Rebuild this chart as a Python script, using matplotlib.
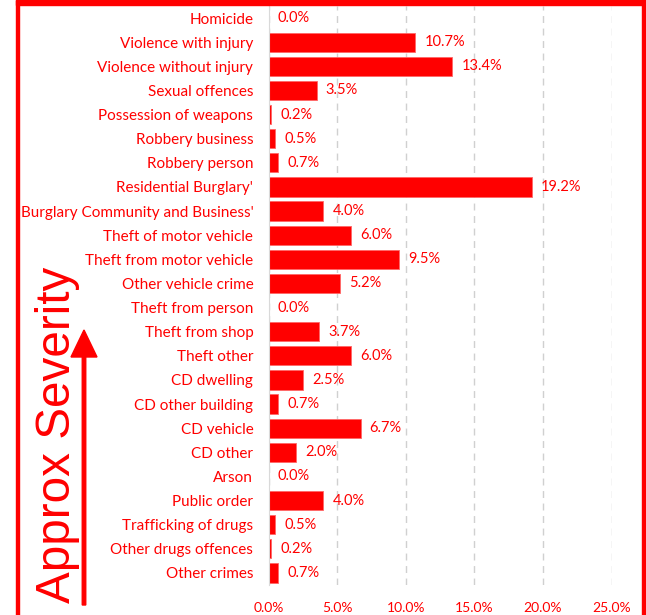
import matplotlib.pyplot as plt
from matplotlib.patches import Rectangle, FancyArrow
import numpy as np

# crime categories, top to bottom
categories = ['Homicide', 'Violence with injury', 'Violence without injury',
              'Sexual offences', 'Possession of weapons', 'Robbery business',
              'Robbery person', "Residential Burglary'",
              "Burglary Community and Business'", 'Theft of motor vehicle',
              'Theft from motor vehicle', 'Other vehicle crime',
              'Theft from person', 'Theft from shop', 'Theft other',
              'CD dwelling', 'CD other building', 'CD vehicle', 'CD other',
              'Arson', 'Public order', 'Trafficking of drugs',
              'Other drugs offences', 'Other crimes']
shares = [0.0, 10.7, 13.4, 3.5, 0.2, 0.5, 0.7, 19.2, 4.0, 6.0, 9.5, 5.2,
          0.0, 3.7, 6.0, 2.5, 0.7, 6.7, 2.0, 0.0, 4.0, 0.5, 0.2, 0.7]
xticks = [0, 5, 10, 15, 20, 25]

RED = '#ff0000'
W, H = 646, 615
plt.rcParams['font.family'] = ['Lato', 'DejaVu Sans']

fig = plt.figure(figsize=(W / 100, H / 100), dpi=100)

# plot area in pixels: x 268.6..611.6, y 6..585
ax = fig.add_axes([268.6 / W, 1 - 585 / H, 343 / W, 579 / H])
y = np.arange(len(categories))
ax.barh(y, shares, height=0.8, color=RED, edgecolor='#ff6666', linewidth=0.6)
for yi, v in zip(y, shares):
    ax.annotate('%.1f%%' % v, (v, yi), xytext=(6.5, 0), textcoords='offset points',
                va='center', ha='left', color=RED, fontsize=10.5)

ax.set_xlim(0, 25)
ax.set_ylim(len(categories) - 0.5, -0.5)
ax.set_yticks(y)
ax.set_yticklabels(categories, color=RED, fontsize=11)
ax.set_xticks(xticks)
ax.set_xticklabels(['%.1f%%' % t for t in xticks], color=RED, fontsize=10)
ax.tick_params(axis='both', length=0)
ax.tick_params(axis='y', pad=11)
ax.tick_params(axis='x', pad=12)
for s in ['top', 'right', 'bottom']:
    ax.spines[s].set_visible(False)
ax.spines['left'].set_color('#d9d9d9')
ax.grid(axis='x', color='#d0d0d0', linestyle=(0, (5, 4)), linewidth=1)
ax.set_axisbelow(True)

# border frame
fig.patches.append(Rectangle((16 / W, 0), 3 / W, 1, transform=fig.transFigure,
                             color=RED, zorder=5))
fig.patches.append(Rectangle((16 / W, 1 - 5 / H), 1, 5 / H,
                             transform=fig.transFigure, color=RED, zorder=5))
fig.patches.append(Rectangle((642 / W, 0), 3 / W, 1, transform=fig.transFigure,
                             color=RED, zorder=5))

# severity arrow and label
fig.text(57 / W, 1 - 435 / H, 'Approx Severity', rotation=90, color=RED,
         family='Liberation Sans', fontsize=34.3, ha='center', va='center')
fig.patches.append(FancyArrow(84 / W, 1 - 605 / H, 0, 248 / H, width=3.5 / W,
                              head_width=26 / W, head_length=27 / H,
                              length_includes_head=False, color=RED,
                              transform=fig.transFigure))

fig.savefig('out.png', dpi=100)
